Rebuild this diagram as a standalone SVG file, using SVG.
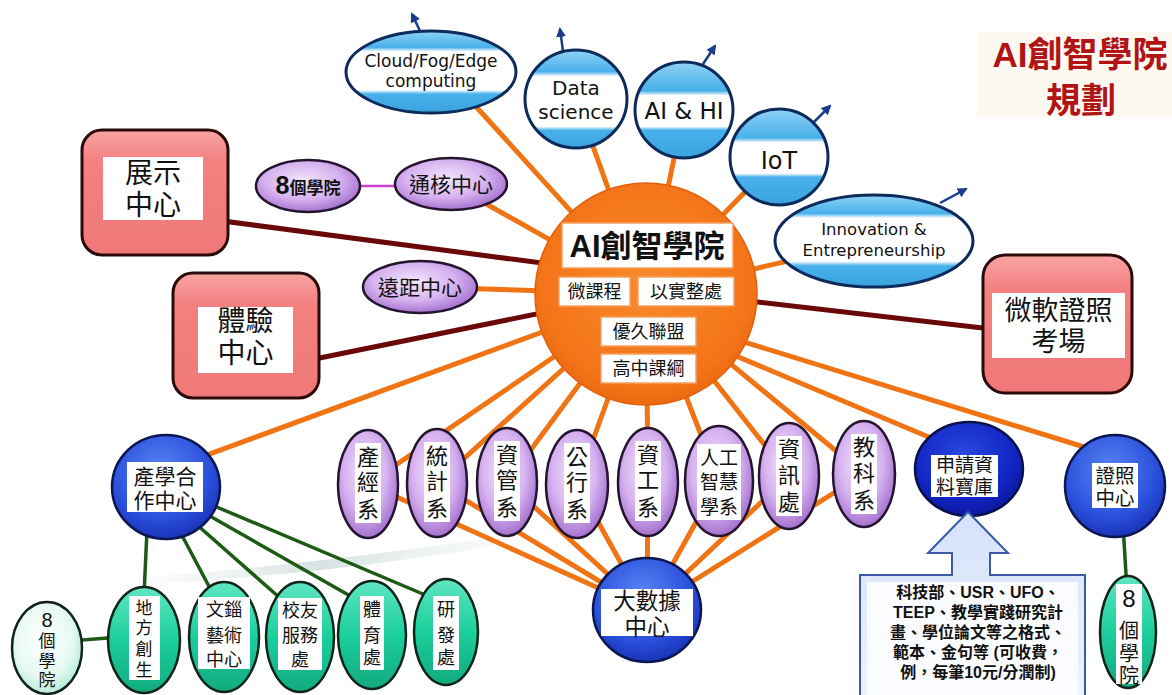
<svg xmlns="http://www.w3.org/2000/svg" width="1172" height="695" viewBox="0 0 1172 695">
<style>
.cjk{font-family:"Liberation Sans","Noto Sans CJK TC","Noto Sans CJK SC",sans-serif;}
.lat{font-family:"DejaVu Sans","Liberation Sans",sans-serif;}
text{text-anchor:middle;fill:#111;}
.or{stroke:#f07414;stroke-width:5;fill:none;stroke-linecap:round;}
.mr{stroke:#6a0808;stroke-width:5;fill:none;}
.gr{stroke:#1d5a14;stroke-width:3.5;fill:none;}
.nv{stroke:#1a3c8c;stroke-width:2.5;fill:none;marker-end:url(#ah);}
.wb{fill:#fff;}
.pu{fill:url(#gPu);stroke:#24142e;stroke-width:2.5;}
.tl{fill:url(#gTl);stroke:#10241a;stroke-width:2.5;}
.bd{fill:url(#gBd);stroke:#0c1650;stroke-width:2.5;}
.rd{fill:url(#gRd);stroke:#2a0a0a;stroke-width:3;}
.d22{font-size:22px;}
</style>
<defs>
<marker id="ah" viewBox="0 0 10 10" refX="8" refY="5" markerWidth="4" markerHeight="4" orient="auto"><path d="M0,0 L10,5 L0,10 Z" fill="#1a3c8c"/></marker>
<radialGradient id="gPu" cx="0.45" cy="0.4" r="0.6"><stop offset="0" stop-color="#f3e6fb"/><stop offset="0.6" stop-color="#d6b2f0"/><stop offset="1" stop-color="#a672cf"/></radialGradient>
<linearGradient id="gTl" x1="0" y1="0" x2="0" y2="1"><stop offset="0" stop-color="#5ee6c2"/><stop offset="0.5" stop-color="#1ccf9c"/><stop offset="1" stop-color="#12aa80"/></linearGradient>
<radialGradient id="gPale" cx="0.45" cy="0.4" r="0.6"><stop offset="0" stop-color="#ffffff"/><stop offset="0.7" stop-color="#e6f9f1"/><stop offset="1" stop-color="#b8ecd8"/></radialGradient>
<radialGradient id="gBd" cx="0.45" cy="0.35" r="0.65"><stop offset="0" stop-color="#5a86f4"/><stop offset="0.7" stop-color="#2a50dc"/><stop offset="1" stop-color="#1a34b8"/></radialGradient>
<radialGradient id="gBn" cx="0.45" cy="0.35" r="0.65"><stop offset="0" stop-color="#2a48e0"/><stop offset="0.7" stop-color="#1226c4"/><stop offset="1" stop-color="#0c18a0"/></radialGradient>
<linearGradient id="gRd" x1="0" y1="0" x2="0" y2="1"><stop offset="0" stop-color="#f9a4a4"/><stop offset="0.25" stop-color="#f48080"/><stop offset="1" stop-color="#f07878"/></linearGradient>
<radialGradient id="gOr" cx="0.5" cy="0.45" r="0.55"><stop offset="0" stop-color="#f98a2e"/><stop offset="0.85" stop-color="#f47418"/><stop offset="1" stop-color="#ec6a10"/></radialGradient>
<linearGradient id="gLb1" x1="0" y1="0" x2="0" y2="1"><stop offset="0" stop-color="#8fd2f6"/><stop offset="0.2" stop-color="#48b0ea"/><stop offset="0.25" stop-color="#ffffff"/><stop offset="0.72" stop-color="#ffffff"/><stop offset="0.77" stop-color="#48b0ea"/><stop offset="1" stop-color="#3aa2de"/></linearGradient>
<linearGradient id="gLb2" x1="0" y1="0" x2="0" y2="1"><stop offset="0" stop-color="#8fd2f6"/><stop offset="0.22" stop-color="#48b0ea"/><stop offset="0.27" stop-color="#ffffff"/><stop offset="0.78" stop-color="#ffffff"/><stop offset="0.82" stop-color="#48b0ea"/><stop offset="1" stop-color="#3aa2de"/></linearGradient>
<linearGradient id="gLb3" x1="0" y1="0" x2="0" y2="1"><stop offset="0" stop-color="#8fd2f6"/><stop offset="0.3" stop-color="#48b0ea"/><stop offset="0.35" stop-color="#ffffff"/><stop offset="0.67" stop-color="#ffffff"/><stop offset="0.71" stop-color="#48b0ea"/><stop offset="1" stop-color="#3aa2de"/></linearGradient>
<linearGradient id="gBx" x1="0" y1="0" x2="0" y2="1"><stop offset="0" stop-color="#d4e2fa"/><stop offset="1" stop-color="#eef3fd"/></linearGradient>
<linearGradient id="gSh" x1="0" y1="0" x2="1" y2="0"><stop offset="0" stop-color="#e8eeee" stop-opacity="0.2"/><stop offset="0.5" stop-color="#d8e2e2"/><stop offset="1" stop-color="#e8eeee" stop-opacity="0.3"/></linearGradient>
</defs>
<rect width="1172" height="695" fill="#fff"/>
<path d="M150,577 Q330,562 490,538 L494,546 Q330,574 150,584 Z" fill="url(#gSh)"/>

<g id="title">
<rect x="977" y="32" width="195" height="85" fill="#fdf8f0"/>
<text class="cjk" x="1080" y="67" style="font-size:35px;font-weight:bold;fill:#b01414">AI創智學院<tspan x="1081" dy="46">規劃</tspan></text>
</g>

<g id="connectors">
<line class="or" x1="646" y1="294" x2="470" y2="100"/>
<line class="or" x1="646" y1="294" x2="576" y2="99"/>
<line class="or" x1="646" y1="294" x2="684" y2="110"/>
<line class="or" x1="646" y1="294" x2="779" y2="157"/>
<line class="or" x1="646" y1="294" x2="874" y2="241"/>
<line class="or" x1="646" y1="294" x2="451" y2="184"/>
<line class="or" x1="646" y1="294" x2="420" y2="287"/>
<line class="or" x1="646" y1="294" x2="166" y2="470"/>
<line class="or" x1="646" y1="294" x2="368" y2="484"/>
<line class="or" x1="646" y1="294" x2="437" y2="483"/>
<line class="or" x1="646" y1="294" x2="507" y2="482"/>
<line class="or" x1="646" y1="294" x2="577" y2="484"/>
<line class="or" x1="646" y1="294" x2="648" y2="482"/>
<line class="or" x1="646" y1="294" x2="719" y2="481"/>
<line class="or" x1="646" y1="294" x2="789" y2="476"/>
<line class="or" x1="646" y1="294" x2="864" y2="474"/>
<line class="or" x1="646" y1="318" x2="969" y2="454"/>
<line class="or" x1="660" y1="316" x2="1110" y2="455"/>
<line class="or" x1="368" y1="484" x2="647" y2="610"/>
<line class="or" x1="437" y1="483" x2="647" y2="610"/>
<line class="or" x1="507" y1="482" x2="647" y2="610"/>
<line class="or" x1="577" y1="484" x2="647" y2="610"/>
<line class="or" x1="648" y1="482" x2="647" y2="610"/>
<line class="or" x1="719" y1="481" x2="647" y2="610"/>
<line class="or" x1="789" y1="476" x2="647" y2="610"/>
<line class="or" x1="864" y1="474" x2="647" y2="610"/>
<line class="mr" x1="200" y1="218" x2="640" y2="276"/>
<line class="mr" x1="290" y1="364" x2="640" y2="293"/>
<line class="mr" x1="646" y1="289" x2="1000" y2="330"/>
<line x1="340" y1="186" x2="420" y2="186" stroke="#d040d0" stroke-width="2.5"/>
<line class="gr" x1="147" y1="530" x2="144" y2="595"/>
<line class="gr" x1="178" y1="528" x2="212" y2="592"/>
<line class="gr" x1="196" y1="524" x2="280" y2="598"/>
<line class="gr" x1="208" y1="515" x2="352" y2="597"/>
<line class="gr" x1="212" y1="505" x2="430" y2="597"/>
<line class="gr" x1="70" y1="641" x2="120" y2="637"/>
<line class="gr" x1="1123" y1="525" x2="1127" y2="590"/>
<line class="nv" x1="420" y1="31" x2="412" y2="14"/>
<line class="nv" x1="563" y1="51" x2="560" y2="29"/>
<line class="nv" x1="703" y1="64" x2="715" y2="46"/>
<line class="nv" x1="812" y1="124" x2="830" y2="106"/>
<line class="nv" x1="940" y1="203" x2="966" y2="189"/>
</g>

<g id="hub">
<circle cx="646" cy="294" r="111" fill="url(#gOr)" stroke="#e2600c" stroke-width="1.5"/>
<g fill="#fff" stroke="#f6a060" stroke-width="1.5">
<rect x="562" y="223" width="171" height="45"/>
<rect x="559" y="277" width="71" height="29"/>
<rect x="638" y="277" width="96" height="29"/>
<rect x="601" y="317" width="95" height="29"/>
<rect x="601" y="354" width="95" height="29"/>
</g>
<text class="cjk" x="647" y="257" style="font-size:31px;font-weight:bold">AI創智學院</text>
<text class="cjk" x="594.5" y="298" style="font-size:18px">微課程</text>
<text class="cjk" x="686" y="298" style="font-size:18px">以實整處</text>
<text class="cjk" x="648.5" y="338" style="font-size:18px">優久聯盟</text>
<text class="cjk" x="648.5" y="375" style="font-size:18px">高中課綱</text>
</g>

<g id="cloud">
<ellipse cx="431" cy="72" rx="85" ry="41" fill="url(#gLb1)" stroke="#0c2a5a" stroke-width="3"/>
<text class="lat" x="431" y="67" style="font-size:17px">Cloud/Fog/Edge<tspan x="431" dy="20">computing</tspan></text>
</g>
<g id="datasci">
<ellipse cx="576" cy="99" rx="51" ry="49" fill="url(#gLb2)" stroke="#0c2a5a" stroke-width="3"/>
<text class="lat" x="576" y="95" style="font-size:20px">Data<tspan x="576" dy="24">science</tspan></text>
</g>
<g id="aihi">
<ellipse cx="684" cy="110" rx="49" ry="48" fill="url(#gLb3)" stroke="#0c2a5a" stroke-width="3"/>
<text class="lat" x="684" y="119" style="font-size:23px">AI &amp; HI</text>
</g>
<g id="iot">
<ellipse cx="779" cy="157" rx="49" ry="48" fill="url(#gLb3)" stroke="#0c2a5a" stroke-width="3"/>
<text class="lat" x="779" y="169" style="font-size:24px">IoT</text>
</g>
<g id="innov">
<ellipse cx="874" cy="241" rx="99" ry="46" fill="url(#gLb1)" stroke="#0c2a5a" stroke-width="3"/>
<text class="lat" x="874" y="235" style="font-size:16.5px">Innovation &amp;<tspan x="874" dy="21">Entrepreneurship</tspan></text>
</g>

<g id="show">
<rect class="rd" x="82" y="130" width="146" height="125" rx="20"/>
<rect class="wb" x="103" y="157" width="100" height="63"/>
<text class="cjk" x="153" y="183" style="font-size:28px">展示<tspan x="153" dy="32">中心</tspan></text>
</g>
<g id="exp">
<rect class="rd" x="173" y="273" width="146" height="125" rx="20"/>
<rect class="wb" x="198" y="307" width="95" height="66"/>
<text class="cjk" x="245.5" y="331" style="font-size:28px">體驗<tspan x="245.5" dy="32">中心</tspan></text>
</g>
<g id="ms">
<rect class="rd" x="983" y="255" width="149" height="138" rx="22"/>
<rect class="wb" x="992" y="293" width="133" height="65"/>
<text class="cjk" x="1058.5" y="320" style="font-size:27px">微軟證照<tspan x="1058.5" dy="31">考場</tspan></text>
</g>

<g id="col8a">
<ellipse class="pu" cx="308" cy="186" rx="52" ry="26"/>
<text class="cjk" x="308" y="194" style="font-size:17px;font-weight:bold"><tspan style="font-size:25px">8</tspan>個學院</text>
</g>
<g id="core">
<ellipse class="pu" cx="451" cy="184" rx="56" ry="26"/>
<text class="cjk" x="451" y="192" style="font-size:21px">通核中心</text>
</g>
<g id="remote">
<ellipse class="pu" cx="420" cy="287" rx="57" ry="26"/>
<text class="cjk" x="420" y="295" style="font-size:21px">遠距中心</text>
</g>

<g id="d1"><ellipse class="pu" cx="368" cy="484" rx="30" ry="54"/><rect class="wb" x="355" y="443" width="26" height="80"/><text class="cjk d22" x="368" y="465">產<tspan x="368" dy="25">經</tspan><tspan x="368" dy="27">系</tspan></text></g>
<g id="d2"><ellipse class="pu" cx="437" cy="483" rx="30" ry="54"/><rect class="wb" x="424" y="442" width="26" height="80"/><text class="cjk d22" x="437" y="464">統<tspan x="437" dy="25">計</tspan><tspan x="437" dy="27">系</tspan></text></g>
<g id="d3"><ellipse class="pu" cx="507" cy="482" rx="30" ry="54"/><rect class="wb" x="494" y="441" width="26" height="80"/><text class="cjk d22" x="507" y="463">資<tspan x="507" dy="25">管</tspan><tspan x="507" dy="27">系</tspan></text></g>
<g id="d4"><ellipse class="pu" cx="577" cy="484" rx="31" ry="54"/><rect class="wb" x="564" y="443" width="26" height="80"/><text class="cjk d22" x="577" y="465">公<tspan x="577" dy="25">行</tspan><tspan x="577" dy="27">系</tspan></text></g>
<g id="d5"><ellipse class="pu" cx="648" cy="482" rx="30" ry="54"/><rect class="wb" x="635" y="441" width="26" height="80"/><text class="cjk d22" x="648" y="463">資<tspan x="648" dy="25">工</tspan><tspan x="648" dy="27">系</tspan></text></g>
<g id="d6"><ellipse class="pu" cx="719" cy="481" rx="34" ry="55"/><rect class="wb" x="697" y="444" width="44" height="76"/><text class="cjk" x="719" y="465" style="font-size:19px">人工<tspan x="719" dy="24">智慧</tspan><tspan x="719" dy="25">學系</tspan></text></g>
<g id="d7"><ellipse class="pu" cx="789" cy="476" rx="30" ry="53"/><rect class="wb" x="776" y="436" width="26" height="80"/><text class="cjk d22" x="789" y="457">資<tspan x="789" dy="26">訊</tspan><tspan x="789" dy="27">處</tspan></text></g>
<g id="d8"><ellipse class="pu" cx="864" cy="474" rx="31" ry="53"/><rect class="wb" x="851" y="434" width="26" height="80"/><text class="cjk d22" x="864" y="455">教<tspan x="864" dy="26">科</tspan><tspan x="864" dy="27">系</tspan></text></g>

<g id="bigdata">
<ellipse cx="647" cy="610" rx="54" ry="52" fill="url(#gBd)" stroke="#0c1650" stroke-width="2.5"/>
<rect class="wb" x="601" y="589" width="92" height="47"/>
<text class="cjk" x="647" y="609" style="font-size:22.5px">大數據<tspan x="647" dy="25.5">中心</tspan></text>
</g>
<g id="iac">
<ellipse class="bd" cx="166" cy="487" rx="54" ry="52"/>
<rect class="wb" x="127" y="462" width="76" height="50"/>
<text class="cjk" x="165" y="484" style="font-size:21px">產學合<tspan x="165" dy="24">作中心</tspan></text>
</g>
<g id="repo">
<ellipse cx="969" cy="469" rx="54" ry="47" fill="url(#gBn)" stroke="#08104a" stroke-width="2.5"/>
<rect class="wb" x="931" y="455" width="67" height="42"/>
<text class="cjk" x="964.5" y="472" style="font-size:19px">申請資<tspan x="964.5" dy="21.5">料寶庫</tspan></text>
</g>
<g id="cert">
<ellipse class="bd" cx="1115" cy="486" rx="50" ry="51"/>
<rect class="wb" x="1092" y="463" width="46" height="45"/>
<text class="cjk" x="1115" y="483" style="font-size:19.5px">證照<tspan x="1115" dy="22">中心</tspan></text>
</g>

<g id="note">
<path d="M860,575 H952 V553 H928 L968,512 L1008,553 H990 V575 H1085 V697 H860 Z" fill="url(#gBx)" stroke="#3a5aa8" stroke-width="2"/>
<rect x="867" y="582" width="211" height="115" fill="#fbfcff"/>
<text class="cjk" x="978" y="598" style="font-size:16px;font-weight:bold">科技部、USR、UFO、<tspan x="978" dy="20">TEEP、教學實踐研究計</tspan><tspan x="978" dy="20">畫、學位論文等之格式、</tspan><tspan x="978" dy="20">範本、金句等 (可收費，</tspan><tspan x="978" dy="20">例，每筆10元/分潤制)</tspan></text>
</g>

<g id="col8l">
<ellipse cx="47" cy="648" rx="35" ry="46" fill="url(#gPale)" stroke="#10241a" stroke-width="2.5"/>
<text class="cjk" x="47" y="627" style="font-size:17px"><tspan style="font-size:20px">8</tspan><tspan x="47" dy="20">個</tspan><tspan x="47" dy="19.5">學</tspan><tspan x="47" dy="19.5">院</tspan></text>
</g>
<g id="g1"><ellipse class="tl" cx="144" cy="640" rx="36" ry="53"/><rect class="wb" x="129" y="596" width="31" height="84"/><text class="cjk" x="144" y="614" style="font-size:17px">地<tspan x="144" dy="20">方</tspan><tspan x="144" dy="21">創</tspan><tspan x="144" dy="21">生</tspan></text></g>
<g id="g2"><ellipse class="tl" cx="224" cy="637" rx="35" ry="55"/><rect class="wb" x="198" y="597" width="52" height="72"/><text class="cjk" x="224" y="616" style="font-size:18px">文錙<tspan x="224" dy="26">藝術</tspan><tspan x="224" dy="24">中心</tspan></text></g>
<g id="g3"><ellipse class="tl" cx="300" cy="637" rx="34" ry="55"/><rect class="wb" x="278" y="598" width="44" height="72"/><text class="cjk" x="300" y="617" style="font-size:18px">校友<tspan x="300" dy="25">服務</tspan><tspan x="300" dy="24">處</tspan></text></g>
<g id="g4"><ellipse class="tl" cx="372" cy="635" rx="34" ry="54"/><rect class="wb" x="360" y="596" width="24" height="74"/><text class="cjk" x="372" y="616" style="font-size:18px">體<tspan x="372" dy="26">育</tspan><tspan x="372" dy="22">處</tspan></text></g>
<g id="g5"><ellipse class="tl" cx="446" cy="632" rx="32" ry="53"/><rect class="wb" x="433" y="596" width="26" height="74"/><text class="cjk" x="446" y="616" style="font-size:18px">研<tspan x="446" dy="26">發</tspan><tspan x="446" dy="22">處</tspan></text></g>
<g id="col8r">
<ellipse class="tl" cx="1128" cy="632" rx="28" ry="56"/>
<rect class="wb" x="1116" y="584" width="26" height="100"/>
<text class="cjk" x="1129" y="607" style="font-size:20px"><tspan style="font-size:24px">8</tspan><tspan x="1129" dy="31">個</tspan><tspan x="1129" dy="22.5">學</tspan><tspan x="1129" dy="22.5">院</tspan></text>
</g>
</svg>
